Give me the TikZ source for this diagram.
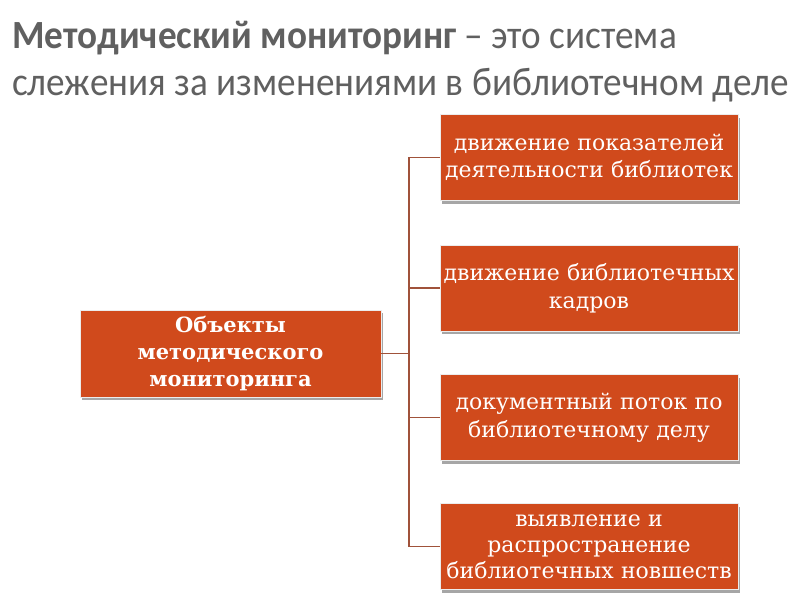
\documentclass[tikz,border=0pt]{standalone}
\usepackage{fontspec}
\setmainfont{DejaVu Serif}
\newfontfamily\titlefont[FakeStretch=0.93]{Carlito}
\usetikzlibrary{shadows}
\definecolor{boxfill}{RGB}{208,74,28}
\definecolor{linecol}{RGB}{160,82,58}
\definecolor{titlegray}{RGB}{96,96,96}
\begin{document}
\begin{tikzpicture}[x=1pt,y=-1pt,
  box/.style={fill=boxfill, draw=white!85!gray, line width=0.8pt,
    minimum width=298pt, minimum height=86pt, text width=296pt, align=center,
    text=white, font=\fontsize{22}{27.5}\selectfont, inner sep=0pt,
    drop shadow={shadow xshift=2pt, shadow yshift=-3pt, fill=black, opacity=0.35}},
  conn/.style={draw=linecol, line width=1.2pt},
  titletext/.style={anchor=base west, inner sep=0pt, text=titlegray,
    font=\titlefont\fontsize{40}{47}\selectfont}]
\useasboundingbox[fill=white] (0,0) rectangle (792,613);

\node[titletext] (t1) at (12,48) {\textbf{Методический мониторинг} – это система};
\node[titletext] (t2) at (12,95) {слежения за изменениями в библиотечном деле};

\node[box, minimum width=301pt, minimum height=87pt, font=\bfseries\fontsize{21}{27}\selectfont] (c) at (230.5,353.5) {Объекты\\методического\\мониторинга};

\node[box] (r1) at (589,157.5) {движение показателей\\деятельности библиотек};
\node[box] (r2) at (589,288) {движение библиотечных\\кадров};
\node[box] (r3) at (589,417.5) {документный поток по\\библиотечному делу};
\node[box, font=\fontsize{22}{26}\selectfont] (r4) at (589,546.5) {выявление и\\распространение\\библиотечных новшеств};

\coordinate (j) at (409,353.5);
\draw[conn] (c.east) -- (j);
\foreach \r in {r1,r2,r3,r4} \draw[conn] (j) |- (\r.west);
\end{tikzpicture}
\end{document}
